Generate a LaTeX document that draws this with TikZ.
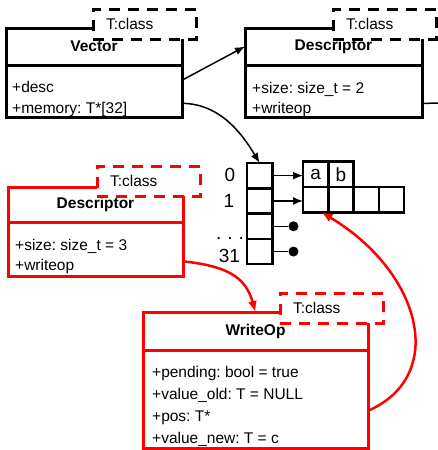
\documentclass[tikz,border=0pt]{standalone}
\usepackage{fontspec}
\setmainfont{Liberation Sans}
\usetikzlibrary{arrows.meta, positioning}
\frenchspacing

\begin{document}
\begin{tikzpicture}[
x=1pt, y=-1pt,
every node/.style={font=\fontsize{15.5}{18}\selectfont},
classhead/.style={draw, line width=3pt, inner sep=0pt, outer sep=0pt, anchor=north west, minimum height=37pt, font=\fontsize{15.5}{18}\selectfont\bfseries},
classbody/.style={draw, line width=3pt, inner sep=0pt, outer sep=0pt},
tparam/.style={draw, line width=3pt, dash pattern=on 11pt off 8pt, fill=white, anchor=north west, inner xsep=13pt, inner ysep=0pt, text width=77pt, minimum height=30pt, outer sep=0pt},
attr/.style={anchor=base west, inner sep=0pt},
cell/.style={draw, line width=2.5pt, minimum size=25.3pt, inner sep=0pt, outer sep=0pt, font=\fontsize{19}{22}\selectfont},
dot/.style={circle, fill, minimum size=10pt, inner sep=0pt},
lbl/.style={inner sep=0pt, font=\fontsize{19}{22}\selectfont},
link/.style={line width=1.5pt},
arrow/.style={-{Latex[length=10pt,width=8pt]}, line width=1.5pt},
redarrow/.style={-{Latex[length=11pt,width=9pt]}, line width=2.5pt, red}
]
\useasboundingbox (0,0) rectangle (438,450);

\node (vechead) [classhead, minimum width=176pt] at (6,28) {Vector};
\node (vecbody) [classbody, minimum width=176pt, minimum height=52pt, below=0pt of vechead] {};
\node (vecT) [tparam] at (93,9) {T:class};
\node (vecdesc) [attr] at (12,92) {+desc};
\node (vecmem) [attr] at (12,113) {+memory: T*[32]};

\node (deschead) [classhead, minimum width=177pt] at (245,28) {Descriptor};
\node (descbody) [classbody, minimum width=177pt, minimum height=52pt, below=0pt of deschead] {};
\node (descT) [tparam] at (333,9) {T:class};
\node (descsize) [attr] at (252,93) {+size: size\_t = 2};
\node (descwop) [attr] at (252,113) {+writeop};
\coordinate (descout) at (440,103);

\node (rdhead) [classhead, draw=red, minimum width=175pt, minimum height=35pt] at (8,187) {Descriptor};
\node (rdbody) [classbody, draw=red, minimum width=175pt, minimum height=54pt, below=0pt of rdhead] {};
\node (rdT) [tparam, draw=red] at (97,166) {T:class};
\node (rdsize) [attr] at (15,250) {+size: size\_t = 3};
\node (rdwop) [attr] at (15,270) {+writeop};

\node (wohead) [classhead, draw=red, minimum width=225pt, minimum height=38pt] at (143,312) {WriteOp};
\node (wobody) [classbody, draw=red, minimum width=225pt, minimum height=98pt, below=0pt of wohead] {};
\node (woT) [tparam, draw=red] at (280,293) {T:class};
\node (wopend) [attr] at (152,377) {+pending: bool = true};
\node (woold) [attr] at (152,399) {+value\_old: T = NULL};
\node (wopos) [attr] at (152,421) {+pos: T*};
\node (wonew) [attr] at (152,443) {+value\_new: T = c};

\node (c0) [cell, anchor=north west] at (247,163) {};
\node (c1) [cell, below=0pt of c0] {};
\node (c2) [cell, below=0pt of c1] {};
\node (c3) [cell, below=0pt of c2] {};
\node (l0) [lbl] at (230,175) {0};
\node (l1) [lbl] at (229,201) {1};
\node (ldots) [lbl, anchor=base] at (230,239.5) {.\hspace{6pt}.\hspace{6pt}.};
\node (l31) [lbl] at (229.5,256) {31};

\node (r1a) [cell, anchor=north west] at (303,187) {};
\node (r1b) [cell, right=0pt of r1a] {};
\node (r1c) [cell, right=0pt of r1b] {};
\node (r1d) [cell, right=0pt of r1c] {};
\node (ra) [cell, above=0pt of r1a] {a};
\node (rb) [cell, right=0pt of ra] {b};
\node (d2) [dot, right=16pt of c2] {};
\node (d3) [dot, right=16pt of c3] {};

\draw[arrow] (vecbody.7) -- (deschead.west);
\draw[arrow] (vecbody.-8) .. controls +(40,0) and +(-15,-25) .. (c0.north);
\draw[link] (descbody.-8) -- (descout);
\draw[arrow] (c0.east) -- (c0.east -| ra.west);
\draw[arrow] (c1.east) -- (c1.east -| r1a.west);
\draw[link] (c2.east) -- (d2);
\draw[link] (c3.east) -- (d3);
\draw[redarrow] (rdbody.-8) .. controls +(45,5) and +(-10,-35) .. (wohead.north);
\draw[redarrow] (wobody.-6) .. controls +(80,-35) and +(100,60) .. (r1a.-65);

\end{tikzpicture}
\end{document}
